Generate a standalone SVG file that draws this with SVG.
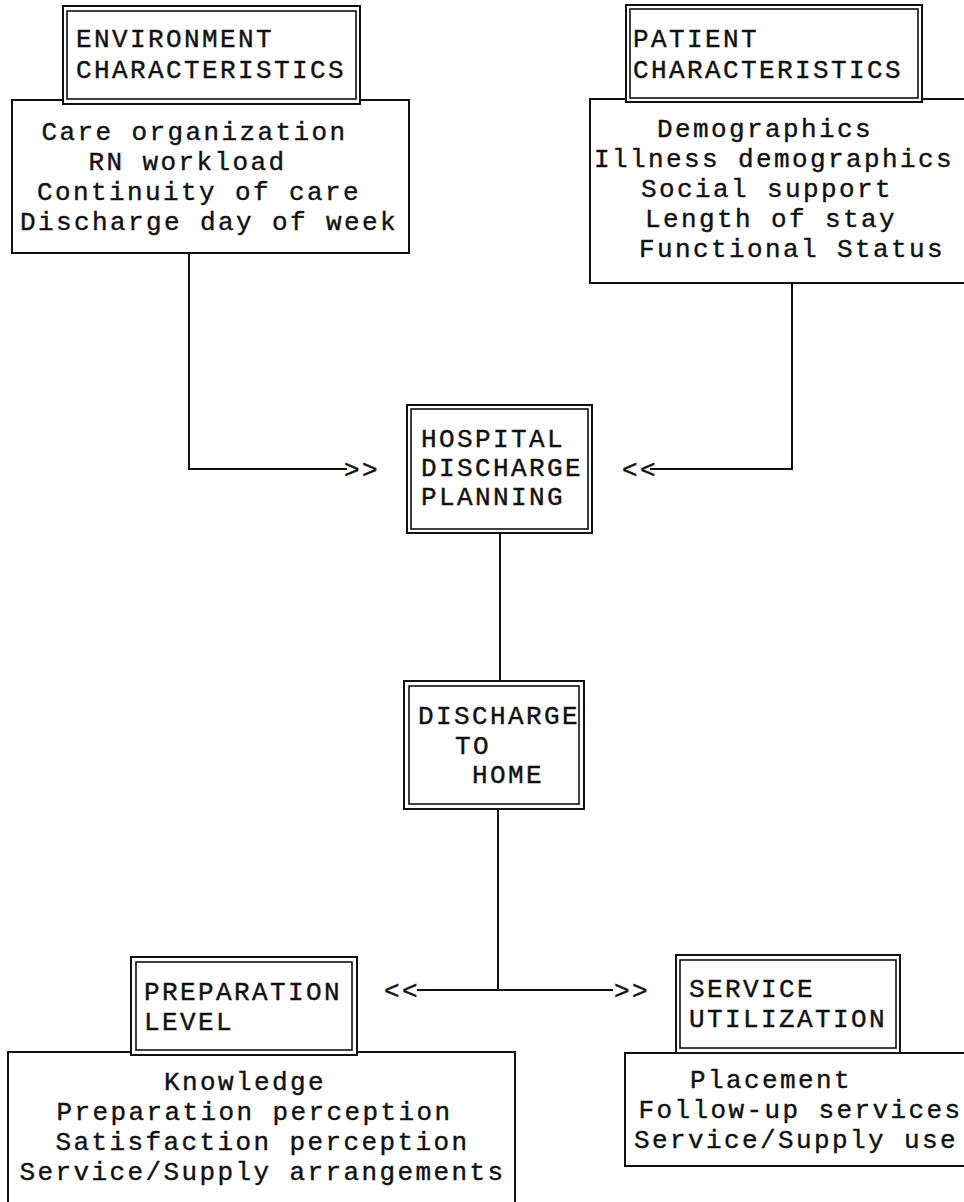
<svg xmlns="http://www.w3.org/2000/svg" width="964" height="1202" viewBox="0 0 964 1202">
<style>
  .bg{fill:#ffffff}
  .list{fill:#ffffff;stroke:#111;stroke-width:2}
  .outer{fill:#ffffff;stroke:#111;stroke-width:2}
  .inner{fill:none;stroke:#111;stroke-width:1.6}
  .t{font-family:"Liberation Mono","Courier New",monospace;font-size:26px;letter-spacing:2.4px;fill:#111;stroke:#111;stroke-width:0.4}
  .c{text-anchor:middle}
  .conn{fill:none;stroke:#111;stroke-width:2}
</style>
<rect class="bg" x="0" y="0" width="964" height="1202"/>

<g id="connectors">
  <polyline class="conn" points="189,253 189,469 347,469"/>
  <text class="t" x="344" y="478">&gt;&gt;</text>
  <polyline class="conn" points="792,283 792,469 650,469"/>
  <text class="t" x="622" y="478">&lt;&lt;</text>
  <line class="conn" x1="500" y1="533" x2="500" y2="681"/>
  <line class="conn" x1="498" y1="809" x2="498" y2="990"/>
  <line class="conn" x1="417" y1="990" x2="613" y2="990"/>
  <text class="t" x="384" y="999">&lt;&lt;</text>
  <text class="t" x="614" y="999">&gt;&gt;</text>
</g>

<g id="environment">
  <rect class="list" x="12" y="100" width="397" height="153"/>
  <rect class="outer" x="63" y="6" width="297" height="98"/>
  <rect class="inner" x="67" y="11" width="289" height="88"/>
  <text class="t" x="76" y="47">ENVIRONMENT</text>
  <text class="t" x="76" y="78">CHARACTERISTICS</text>
  <text class="t c" x="194.5" y="140">Care organization</text>
  <text class="t c" x="187.5" y="170">RN workload</text>
  <text class="t c" x="199" y="200">Continuity of care</text>
  <text class="t c" x="209" y="230">Discharge day of week</text>
</g>

<g id="patient">
  <rect class="list" x="590" y="99" width="380" height="184"/>
  <rect class="outer" x="626" y="5" width="296" height="97"/>
  <rect class="inner" x="630" y="9" width="288" height="89"/>
  <text class="t" x="633" y="47">PATIENT</text>
  <text class="t" x="633" y="78">CHARACTERISTICS</text>
  <text class="t c" x="765" y="137">Demographics</text>
  <text class="t c" x="774" y="167">Illness demographics</text>
  <text class="t c" x="767" y="197">Social support</text>
  <text class="t c" x="771" y="227">Length of stay</text>
  <text class="t c" x="792" y="257">Functional Status</text>
</g>

<g id="hospital-discharge-planning">
  <rect class="outer" x="407" y="405" width="185" height="128"/>
  <rect class="inner" x="411" y="409" width="177" height="120"/>
  <text class="t" x="421" y="447">HOSPITAL</text>
  <text class="t" x="421" y="476">DISCHARGE</text>
  <text class="t" x="421" y="505">PLANNING</text>
</g>

<g id="discharge-to-home">
  <rect class="outer" x="404" y="681" width="180" height="128"/>
  <rect class="inner" x="409" y="686" width="170" height="118"/>
  <text class="t" x="418" y="724">DISCHARGE</text>
  <text class="t" x="455" y="754">TO</text>
  <text class="t" x="472" y="783">HOME</text>
</g>

<g id="preparation-level">
  <rect class="list" x="8" y="1052" width="507" height="160"/>
  <rect class="outer" x="131" y="957" width="226" height="98"/>
  <rect class="inner" x="136" y="962" width="216" height="88"/>
  <text class="t" x="144" y="1000">PREPARATION</text>
  <text class="t" x="144" y="1030">LEVEL</text>
  <text class="t c" x="245" y="1090">Knowledge</text>
  <text class="t c" x="254.5" y="1120">Preparation perception</text>
  <text class="t c" x="262.5" y="1150">Satisfaction perception</text>
  <text class="t c" x="262.5" y="1180">Service/Supply arrangements</text>
</g>

<g id="service-utilization">
  <rect class="list" x="625" y="1053" width="345" height="113"/>
  <rect class="outer" x="676" y="955" width="224" height="98"/>
  <rect class="inner" x="680" y="960" width="216" height="88"/>
  <text class="t" x="689" y="997">SERVICE</text>
  <text class="t" x="689" y="1027">UTILIZATION</text>
  <text class="t c" x="771" y="1088">Placement</text>
  <text class="t c" x="800.5" y="1118">Follow-up services</text>
  <text class="t c" x="796" y="1148">Service/Supply use</text>
</g>
</svg>
